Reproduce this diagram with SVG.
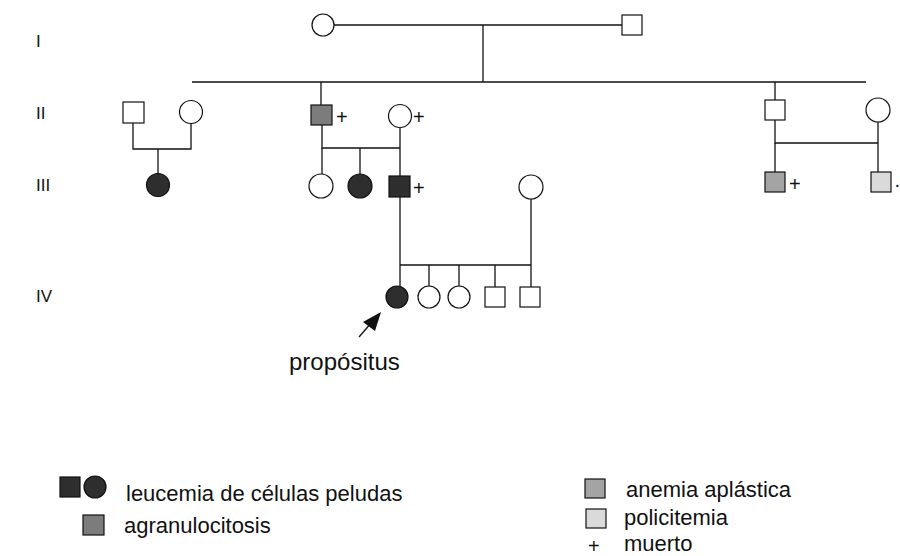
<svg xmlns="http://www.w3.org/2000/svg" width="900" height="556" viewBox="0 0 900 556">
<style>
.ln{stroke:#111;stroke-width:1.3;fill:none}
.sym{stroke:#111;stroke-width:1.2;fill:#fff}
.dk{fill:#2e2e2e}
.ag{fill:#7c7c7c}
.an{fill:#a4a4a4}
.po{fill:#dadada}
text{font-family:"Liberation Sans",Arial,sans-serif;fill:#111}
.gen{font-size:17px}
.pl{font-size:20px}
.lg{font-size:22px}
.pr{font-size:24px}
</style>
<rect width="900" height="556" fill="#fff"/>
<g id="gen-labels">
<text class="gen" x="36" y="47">I</text>
<text class="gen" x="36" y="119">II</text>
<text class="gen" x="36" y="191">III</text>
<text class="gen" x="36" y="302">IV</text>
</g>
<g id="connectors">
<line class="ln" x1="334" y1="25" x2="622" y2="25"/>
<line class="ln" x1="483" y1="25" x2="483" y2="82"/>
<line class="ln" x1="192" y1="82" x2="866" y2="82"/>
<line class="ln" x1="321" y1="82" x2="321" y2="105"/>
<line class="ln" x1="775" y1="82" x2="775" y2="100"/>
<polyline class="ln" points="133,123 133,149 191,149 191,123"/>
<line class="ln" x1="158" y1="149" x2="158" y2="174"/>
<polyline class="ln" points="322,125 322,148 400,148"/>
<line class="ln" x1="400" y1="128" x2="400" y2="176"/>
<line class="ln" x1="322" y1="148" x2="322" y2="174"/>
<line class="ln" x1="360" y1="148" x2="360" y2="174"/>
<line class="ln" x1="400" y1="197" x2="400" y2="287"/>
<line class="ln" x1="400" y1="265" x2="531" y2="265"/>
<line class="ln" x1="531" y1="199" x2="531" y2="287"/>
<line class="ln" x1="429" y1="265" x2="429" y2="287"/>
<line class="ln" x1="459" y1="265" x2="459" y2="287"/>
<line class="ln" x1="495" y1="265" x2="495" y2="287"/>
<polyline class="ln" points="775,120 775,143 878,143"/>
<line class="ln" x1="878" y1="122" x2="878" y2="172"/>
<line class="ln" x1="775" y1="143" x2="775" y2="172"/>
</g>
<g id="I-1"><circle class="sym" cx="323" cy="25" r="11"/></g>
<g id="I-2"><rect class="sym" x="622" y="15" width="20" height="20"/></g>
<g id="II-1"><rect class="sym" x="123" y="102" width="21" height="21"/></g>
<g id="II-2"><circle class="sym" cx="191" cy="112" r="11.5"/></g>
<g id="II-3"><rect class="sym ag" x="311" y="105" width="21" height="20"/><text class="pl" x="336" y="124">+</text></g>
<g id="II-4"><circle class="sym" cx="400" cy="116" r="11.5"/><text class="pl" x="413" y="124">+</text></g>
<g id="II-5"><rect class="sym" x="765" y="100" width="20" height="20"/></g>
<g id="II-6"><circle class="sym" cx="878" cy="110" r="12"/></g>
<g id="III-1"><circle class="sym dk" cx="158" cy="185" r="11.5"/></g>
<g id="III-2"><circle class="sym" cx="321" cy="186" r="12"/></g>
<g id="III-3"><circle class="sym dk" cx="360" cy="186" r="12"/></g>
<g id="III-4"><rect class="sym dk" x="389" y="176" width="21" height="21"/><text class="pl" x="413" y="195">+</text></g>
<g id="III-5"><circle class="sym" cx="531" cy="187" r="12"/></g>
<g id="III-6"><rect class="sym an" x="765" y="172" width="20" height="20"/><text class="pl" x="789" y="191">+</text></g>
<g id="III-7"><rect class="sym po" x="871" y="172" width="20" height="20"/><text class="pl" x="894" y="191">·</text></g>
<g id="IV-1"><circle class="sym dk" cx="397" cy="297" r="11"/></g>
<g id="IV-2"><circle class="sym" cx="429" cy="297" r="11"/></g>
<g id="IV-3"><circle class="sym" cx="459" cy="297" r="11"/></g>
<g id="IV-4"><rect class="sym" x="485" y="287" width="20" height="20"/></g>
<g id="IV-5"><rect class="sym" x="520" y="287" width="20" height="20"/></g>
<g id="proband-arrow">
<line class="ln" x1="359" y1="337" x2="372" y2="322"/>
<polygon points="381,312 375,331 363,322" fill="#111"/>
<text class="pr" x="289" y="370">propósitus</text>
</g>
<g id="legend">
<rect class="sym dk" x="60" y="477" width="20" height="20"/>
<circle class="sym dk" cx="95" cy="487" r="11"/>
<text class="lg" x="126" y="501">leucemia de células peludas</text>
<rect class="sym ag" x="83" y="515" width="21" height="20"/>
<text class="lg" x="124" y="533">agranulocitosis</text>
<rect class="sym an" x="585" y="479" width="20" height="19"/>
<text class="lg" x="626" y="497">anemia aplástica</text>
<rect class="sym po" x="586" y="509" width="20" height="19"/>
<text class="lg" x="624" y="525">policitemia</text>
<text class="pl" x="588" y="553">+</text>
<text class="lg" x="624" y="551">muerto</text>
</g>
</svg>
